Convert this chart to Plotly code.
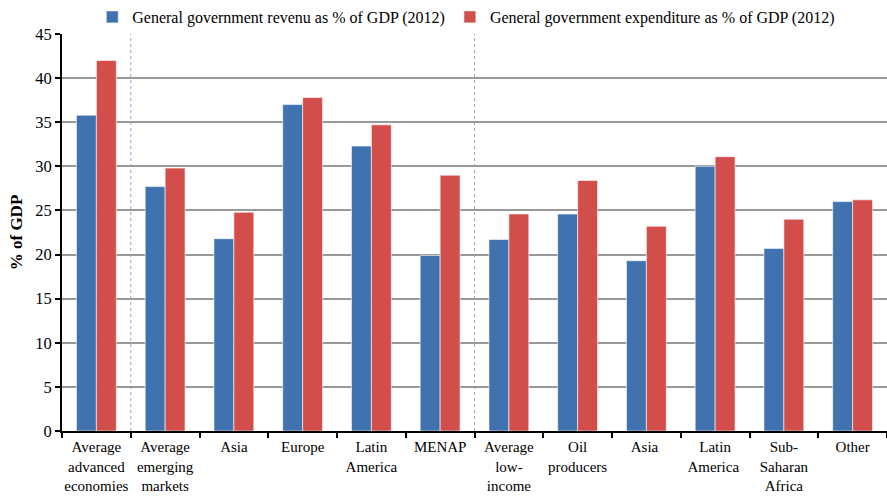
import plotly.graph_objects as go

categories = [
    "Average<br>advanced<br>economies",
    "Average<br>emerging<br>markets",
    "Asia",
    "Europe",
    "Latin<br>America",
    "MENAP",
    "Average<br>low-<br>income",
    "Oil<br>producers",
    "Asia ",
    "Latin<br>America ",
    "Sub-<br>Saharan<br>Africa",
    "Other",
]
revenue = [35.8, 27.7, 21.8, 37.0, 32.3, 19.9, 21.7, 24.6, 19.3, 30.0, 20.7, 26.0]
expenditure = [42.0, 29.8, 24.8, 37.8, 34.7, 29.0, 24.6, 28.4, 23.2, 31.1, 24.0, 26.2]
y_ticks = [0, 5, 10, 15, 20, 25, 30, 35, 40, 45]
separators = [0.5, 5.5]

font = "Liberation Serif"

fig = go.Figure()
fig.add_trace(go.Bar(
    x=categories, y=revenue,
    name="General government revenu as % of GDP (2012)",
    marker=dict(color="#3F72AF", line=dict(color="rgba(255,255,255,0.6)", width=1)),
))
fig.add_trace(go.Bar(
    x=categories, y=expenditure,
    name="General government expenditure as % of GDP (2012)",
    marker=dict(color="#D14E4B", line=dict(color="rgba(255,255,255,0.6)", width=1)),
))

for s in separators:
    fig.add_shape(type="line", xref="x", yref="paper", x0=s, x1=s, y0=0, y1=1,
                  line=dict(color="#8FA8CF", width=1, dash="dot"), layer="below")

fig.update_layout(
    width=887, height=496,
    margin=dict(l=62, r=0, t=32, b=65),
    plot_bgcolor="white", paper_bgcolor="white",
    font=dict(family=font, size=15, color="black"),
    barmode="group", bargap=0.42, bargroupgap=0,
    legend=dict(orientation="h", x=0.49, xanchor="center", y=1.0, yanchor="bottom",
                font=dict(family=font, size=16), traceorder="normal"),
    xaxis=dict(type="category", showline=True, linecolor="black", linewidth=2,
               ticks="outside", tickson="boundaries", ticklen=5, tickwidth=2,
               tickcolor="black", showgrid=False, tickangle=0, automargin=False,
               ticklabelstandoff=1,
               tickfont=dict(family=font, size=15),
               range=[-0.5, 11.5]),
    yaxis=dict(range=[0, 45], tickvals=y_ticks, showline=True, linecolor="black",
               linewidth=2, ticks="outside", ticklen=5, tickwidth=2, tickcolor="black",
               showgrid=True, gridcolor="#999999", gridwidth=2, zeroline=False,
               tickfont=dict(family=font, size=16.5), automargin=False,
               title=dict(text="<b>% of GDP</b>", font=dict(family=font, size=17), standoff=8)),
)

fig.write_html("out.html")
